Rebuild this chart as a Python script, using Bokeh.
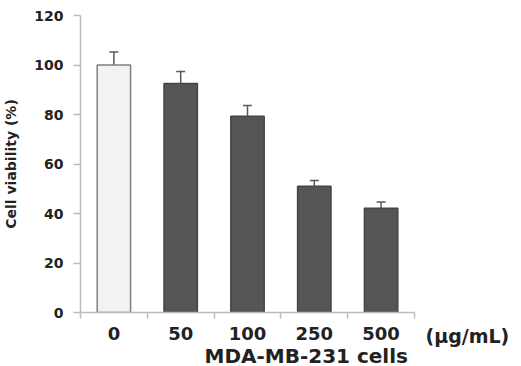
from bokeh.plotting import figure
from bokeh.layouts import row
from bokeh.models import ColumnDataSource, Range1d, FixedTicker, Whisker, TeeHead, Title
from bokeh.embed import file_html
from bokeh.resources import INLINE

# Data
doses = ["0", "50", "100", "250", "500"]
viability = [100.0, 92.5, 79.3, 51.0, 42.1]
errors = [5.3, 4.9, 4.3, 2.3, 2.5]
fills = ["#f2f2f2", "#555555", "#555555", "#555555", "#555555"]
outlines = ["#808080", "#454545", "#454545", "#454545", "#454545"]
y_ticks = [0, 20, 40, 60, 80, 100, 120]
unit_label = "(µg/mL)"
x_title = "MDA-MB-231 cells"
y_title = "Cell viability (%)"

xs = [i + 0.5 for i in range(len(doses))]
src = ColumnDataSource(dict(
    x=xs, top=viability, upper=[v + e for v, e in zip(viability, errors)],
    fill=fills, line=outlines,
))

FONT = "DejaVu Sans"
TXT = "#222222"

p = figure(width=421, height=366, output_backend="svg", toolbar_location=None,
           x_range=Range1d(0, len(doses)), y_range=Range1d(0, 120),
           min_border_left=79, min_border_right=7, min_border_top=15, min_border_bottom=54)
p.outline_line_color = None
p.xgrid.visible = False
p.ygrid.visible = False
p.background_fill_color = "white"

p.vbar(x="x", top="top", width=0.5, bottom=0, source=src,
       fill_color="fill", line_color="line", line_width=1.5)

wh = Whisker(base="x", lower="top", upper="upper", source=src, dimension="height",
             line_color="#5a5a5a", line_width=1.5, lower_head=None,
             upper_head=TeeHead(size=9, line_color="#5a5a5a", line_width=1.5))
p.add_layout(wh)

# x axis: ticks at category boundaries, labels at centres
xa = p.xaxis[0]
xa.ticker = FixedTicker(ticks=xs, minor_ticks=list(range(len(doses) + 1)))
xa.major_label_overrides = {x: d for x, d in zip(xs, doses)}
xa.major_tick_out = 0
xa.major_tick_in = 0
xa.minor_tick_out = 6
xa.minor_tick_in = 0
xa.axis_line_color = "#bbbbbb"
xa.minor_tick_line_color = "#bbbbbb"
xa.axis_line_width = 1.5
xa.minor_tick_line_width = 1.5
xa.major_label_text_font = FONT
xa.major_label_text_font_style = "bold"
xa.major_label_text_font_size = "18px"
xa.major_label_text_color = TXT
xa.major_label_standoff = 8

ya = p.yaxis[0]
ya.ticker = FixedTicker(ticks=y_ticks)
ya.minor_tick_line_color = None
ya.major_tick_out = 7
ya.major_tick_in = 0
ya.axis_line_color = "#bbbbbb"
ya.major_tick_line_color = "#bbbbbb"
ya.axis_line_width = 1.5
ya.major_tick_line_width = 1.5
ya.major_label_text_font = FONT
ya.major_label_text_font_style = "bold"
ya.major_label_text_font_size = "14px"
ya.major_label_text_color = TXT
ya.major_label_standoff = 10
ya.axis_label = y_title
ya.axis_label_text_font = FONT
ya.axis_label_text_font_style = "bold"
ya.axis_label_text_font_size = "14px"
ya.axis_label_text_color = TXT
ya.axis_label_standoff = 12

p.add_layout(Title(text=x_title, align="left", offset=124, standoff=-2,
                   text_font=FONT, text_font_style="bold", text_font_size="20px",
                   text_color=TXT), "below")

# narrow companion panel carrying the unit text beside the last tick label
q = figure(width=100, height=366, output_backend="svg", toolbar_location=None,
           x_range=Range1d(0, 1), y_range=Range1d(0, 1),
           x_axis_type=None, y_axis_type=None,
           min_border_left=0, min_border_right=0, min_border_top=15, min_border_bottom=54)
q.outline_line_color = None
q.xgrid.visible = False
q.ygrid.visible = False
q.add_layout(Title(text=unit_label, align="left", offset=4, standoff=20,
                   vertical_align="bottom",
                   text_font=FONT, text_font_style="bold", text_font_size="19px",
                   text_color=TXT), "below")

layout = row(p, q, spacing=0)
open("out.html", "w").write(file_html(layout, INLINE))
